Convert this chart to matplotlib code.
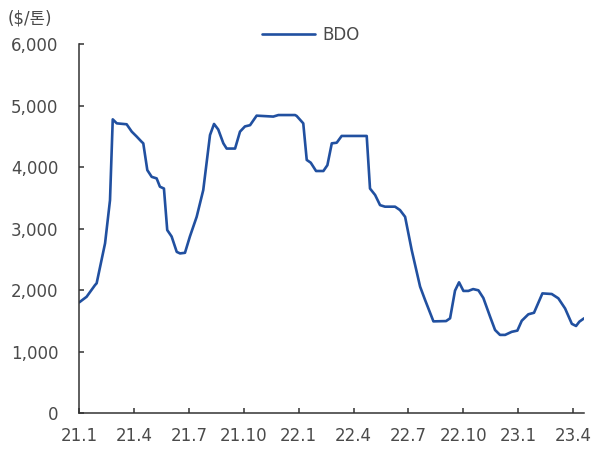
import matplotlib.pyplot as plt
import matplotlib

matplotlib.rcParams['font.family'] = ['DejaVu Sans', 'Noto Sans CJK KR']

# BDO 가격 ($/톤), x = 2021년 1월부터의 개월 수
months = [0.00, 0.40, 0.86, 0.95, 1.41, 1.68, 1.83, 2.05, 2.59, 2.87, 3.14, 3.41,
          3.50, 3.72, 3.96, 4.23, 4.41, 4.63, 4.81, 5.05, 5.33, 5.51, 5.78, 6.05,
          6.42, 6.78, 7.15, 7.37, 7.60, 7.88, 8.06, 8.52, 8.79, 9.06, 9.34, 9.70,
          10.61, 10.89, 11.80, 11.89, 12.25, 12.44, 12.66, 12.95, 13.35, 13.57,
          13.81, 14.08, 14.35, 15.72, 15.90, 16.18, 16.45, 16.72, 17.27, 17.54,
          17.82, 18.18, 18.64, 18.91, 19.37, 20.06, 20.28, 20.55, 20.77, 21.01,
          21.28, 21.54, 21.83, 22.10, 22.47, 22.74, 23.01, 23.29, 23.65, 23.96,
          24.20, 24.56, 24.87, 25.33, 25.84, 26.20, 26.57, 26.94, 27.17, 27.35,
          27.61]
bdo = [1800, 1890, 2080, 2110, 2760, 3460, 4775, 4710, 4695, 4575, 4495, 4410,
       4385, 3950, 3840, 3815, 3680, 3650, 2975, 2870, 2620, 2595, 2605, 2870,
       3190, 3625, 4520, 4700, 4610, 4385, 4300, 4300, 4575, 4660, 4680, 4835,
       4820, 4845, 4845, 4830, 4710, 4115, 4070, 3935, 3935, 4030,
       4385, 4395, 4505, 4505, 3650, 3545, 3380, 3355, 3355, 3300,
       3190, 2650, 2055, 1840, 1490, 1495, 1540, 1990, 2125, 1985,
       1985, 2015, 1995, 1870, 1565, 1350, 1270, 1270, 1320, 1340,
       1500, 1605, 1630, 1945, 1935, 1865, 1700, 1450, 1415, 1485,
       1540]

xticks = [0, 3, 6, 9, 12, 15, 18, 21, 24, 27]
xlabels = ['21.1', '21.4', '21.7', '21.10', '22.1', '22.4', '22.7', '22.10', '23.1', '23.4']
yticks = [0, 1000, 2000, 3000, 4000, 5000, 6000]

txt = '#4a4a4a'

fig = plt.figure(figsize=(5.93, 4.5), dpi=100)
ax = fig.add_axes([0.1337, 0.0822, 0.8516, 0.82])

ax.plot(months, bdo, color='#2150a0', lw=1.9, label='BDO',
        solid_joinstyle='round', solid_capstyle='round')

ax.set_xlim(0, 27.62)
ax.set_ylim(0, 6000)
ax.set_xticks(xticks)
ax.set_xticklabels(xlabels)
ax.set_yticks(yticks)
ax.set_yticklabels(['{:,}'.format(v) for v in yticks])

for s in ['top', 'right']:
    ax.spines[s].set_visible(False)
for s in ['left', 'bottom']:
    ax.spines[s].set_color('#333333')
    ax.spines[s].set_linewidth(1.1)

ax.tick_params(axis='both', direction='in', length=3.5, width=1.1, color='#333333',
               labelsize=12, labelcolor=txt)
ax.tick_params(axis='y', pad=15)
ax.tick_params(axis='x', pad=10)

fig.text(8 / 593, 1 - 19 / 450, '($/톤)', fontsize=12, color=txt,
         ha='left', va='center', family=['DejaVu Sans', 'Noto Sans CJK KR'])

ax.legend(loc='center left', bbox_to_anchor=(247 / 593, 1 - 35 / 450),
          bbox_transform=fig.transFigure, frameon=False, fontsize=12,
          handlelength=3.2, handletextpad=0.4, labelcolor=txt)

fig.savefig('out.png', dpi=100)
